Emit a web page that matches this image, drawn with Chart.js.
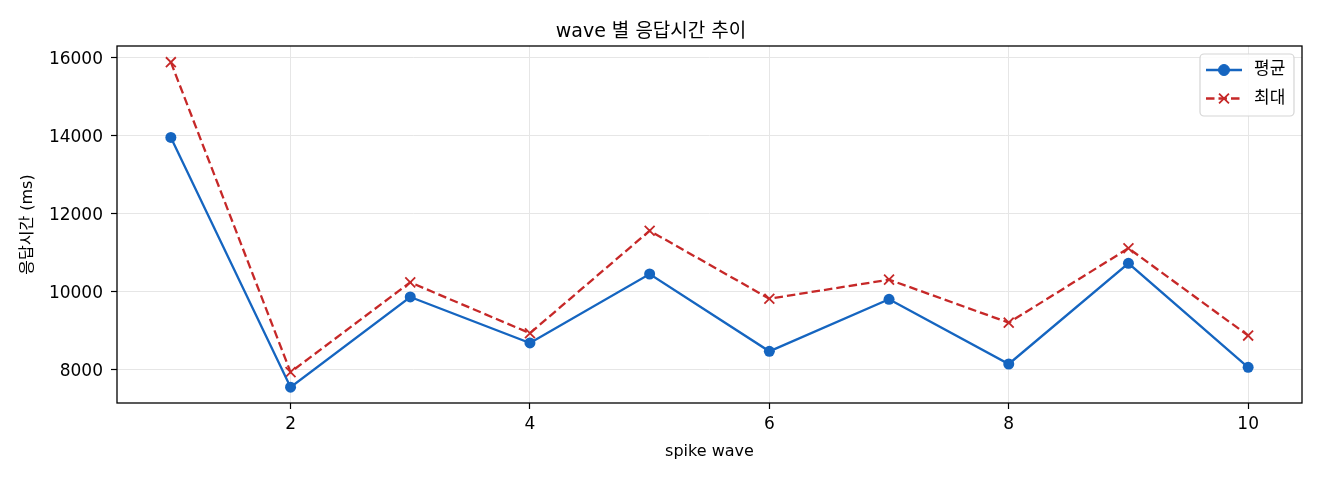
<!DOCTYPE html>
<html>
<head>
<meta charset="utf-8">
<script src="https://cdn.jsdelivr.net/npm/chart.js@4/dist/chart.umd.min.js"></script>
<style>
  html, body { margin: 0; padding: 0; background: #fff; }
  #wrap { width: 1320px; height: 480px; }
</style>
</head>
<body>
<div id="wrap"><canvas id="waveChart" width="1320" height="480"></canvas></div>
<script>
// wave number and response times (ms)
var waves = [1, 2, 3, 4, 5, 6, 7, 8, 9, 10];
var avgMs = [13950, 7540, 9855, 8675, 10445, 8460, 9795, 8135, 10720, 8050];
var maxMs = [15880, 7925, 10230, 8925, 11555, 9810, 10300, 9195, 11105, 8865];
var xTicks = [2, 4, 6, 8, 10];
var yTicks = [8000, 10000, 12000, 14000, 16000];
var seriesNames = ['평균', '최대'];

var BLUE = '#1565C0';
var RED = '#C62828';
var FONT = "'DejaVu Sans', 'Noto Sans CJK KR', sans-serif";

function toPoints(xs, ys) {
	return xs.map(function(x, i) { return {x: x, y: ys[i]}; });
}

// box round the plot + legend inside the top right corner
var framePlugin = {
	id: 'frame',
	afterDraw: function(chart) {
		var ctx = chart.ctx;
		var a = chart.chartArea;
		ctx.save();
		ctx.strokeStyle = '#000';
		ctx.lineWidth = 1.3;
		ctx.strokeRect(a.left, a.top, a.right - a.left, a.bottom - a.top);

		// legend
		var bx = a.right - 102, by = a.top + 8, bw = 94, bh = 62;
		ctx.fillStyle = 'rgba(255,255,255,0.85)';
		ctx.strokeStyle = '#d5d5d5';
		ctx.lineWidth = 1.2;
		ctx.beginPath();
		ctx.roundRect(bx, by, bw, bh, 4);
		ctx.fill();
		ctx.stroke();

		chart.data.datasets.forEach(function(ds, i) {
			var y = by + 16 + i * 28.5;
			var x0 = bx + 6, x1 = bx + 42, xm = (x0 + x1) / 2;
			ctx.strokeStyle = ds.borderColor;
			ctx.lineWidth = ds.borderWidth;
			ctx.setLineDash(ds.borderDash || []);
			ctx.beginPath();
			ctx.moveTo(x0, y);
			ctx.lineTo(x1, y);
			ctx.stroke();
			ctx.setLineDash([]);
			ctx.fillStyle = ds.pointBackgroundColor || ds.borderColor;
			ctx.strokeStyle = ds.pointBorderColor || ds.borderColor;
			ctx.lineWidth = ds.pointBorderWidth || 1;
			Chart.helpers.drawPoint(ctx, {
				pointStyle: ds.pointStyle,
				radius: ds.pointRadius,
				borderWidth: ds.pointBorderWidth || 1
			}, xm, y);
			ctx.fillStyle = '#000';
			ctx.font = "17px " + FONT;
			ctx.textBaseline = 'middle';
			ctx.textAlign = 'left';
			ctx.fillText(ds.label, bx + 54, y);
		});
		ctx.restore();
	}
};

var ctx = document.getElementById('waveChart');
var waveChart = new Chart(ctx, {
	type: 'line',
	data: {
		datasets: [{
			label: seriesNames[0],
			data: toPoints(waves, avgMs),
			borderColor: BLUE,
			backgroundColor: BLUE,
			borderWidth: 2.3,
			pointStyle: 'circle',
			pointRadius: 5.5,
			pointBorderWidth: 0,
			pointBackgroundColor: BLUE,
			pointBorderColor: BLUE,
			tension: 0
		}, {
			label: seriesNames[1],
			data: toPoints(waves, maxMs),
			borderColor: RED,
			backgroundColor: RED,
			borderWidth: 2.3,
			borderDash: [8.5, 4],
			pointStyle: 'crossRot',
			pointRadius: 7,
			pointBorderWidth: 1.8,
			pointBorderColor: RED,
			tension: 0
		}]
	},
	plugins: [framePlugin],
	options: {
		responsive: false,
		animation: false,
		layout: { padding: { left: 0, right: 18, top: 0, bottom: 0 } },
		plugins: {
			legend: { display: false },
			tooltip: { enabled: false },
			title: {
				display: true,
				text: 'wave 별 응답시간 추이',
				color: '#000',
				font: { family: FONT, size: 19, weight: 'normal' },
				padding: { top: 20.6, bottom: 2.6 }
			}
		},
		scales: {
			x: {
				type: 'linear',
				min: 0.55,
				max: 10.45,
				afterBuildTicks: function(scale) {
					scale.ticks = xTicks.map(function(v) { return {value: v}; });
				},
				afterFit: function(scale) { scale.height = 77; },
				grid: { color: '#e6e6e6', lineWidth: 1, tickColor: '#000', tickLength: 6, tickWidth: 1.2 },
				border: { display: false },
				ticks: {
					color: '#000',
					padding: 5,
					maxRotation: 0,
					font: { family: FONT, size: 17 },
					callback: function(v) { return String(v); }
				},
				title: {
					display: true,
					text: 'spike wave',
					color: '#000',
					font: { family: FONT, size: 16 },
					padding: { top: 0, bottom: 18.6 }
				}
			},
			y: {
				type: 'linear',
				min: 7134,
				max: 16296,
				afterBuildTicks: function(scale) {
					scale.ticks = yTicks.map(function(v) { return {value: v}; });
				},
				afterFit: function(scale) { scale.width = 117; },
				grid: { color: '#e6e6e6', lineWidth: 1, tickColor: '#000', tickLength: 6, tickWidth: 1.2 },
				border: { display: false },
				ticks: {
					color: '#000',
					padding: 8,
					labelOffset: 2,
					font: { family: FONT, size: 17 },
					callback: function(v) { return String(v); }
				},
				title: {
					display: true,
					text: '응답시간 (ms)',
					color: '#000',
					font: { family: FONT, size: 16 },
					padding: { top: 18.4, bottom: 0 }
				}
			}
		}
	}
});
</script>
</body>
</html>
